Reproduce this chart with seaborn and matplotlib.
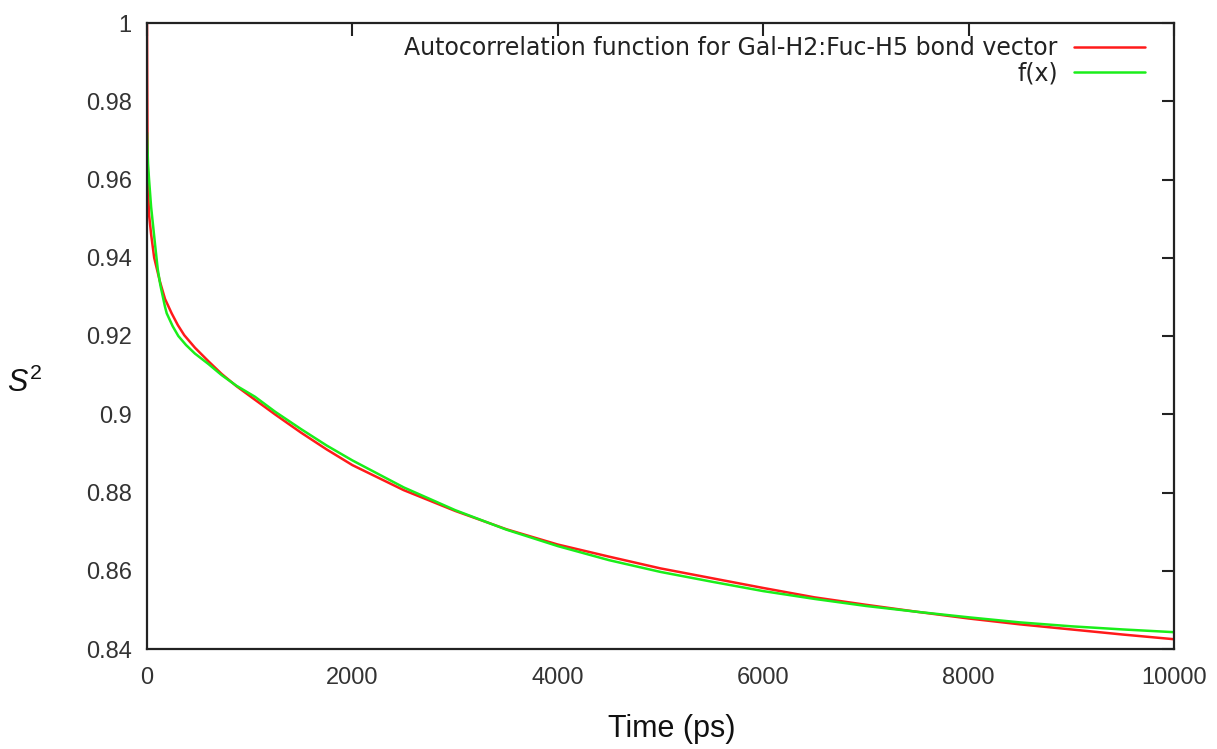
import matplotlib
matplotlib.use("Agg")
import matplotlib.pyplot as plt
import seaborn as sns
import pandas as pd

# ---- data ----
acf_time = [0, 2, 5, 10, 20, 40, 70, 125, 175, 240, 300, 363, 467, 600, 727,
            870, 1020, 1250, 1500, 1750, 2000, 2500, 3000, 3500, 4000,
            4500, 5000, 5500, 6000, 6500, 7000, 7500, 8000, 8500, 9000, 9500,
            10000]
acf_value = [1.000, 0.985, 0.968, 0.958, 0.951, 0.946, 0.940, 0.934, 0.9295,
             0.9258, 0.9228, 0.9202, 0.9170, 0.9135, 0.9103, 0.9072, 0.9043,
             0.8999, 0.8953, 0.8910, 0.8870, 0.8806, 0.8753, 0.8706,
             0.8667, 0.8636, 0.8606, 0.8581, 0.8556, 0.8532, 0.8513, 0.8495,
             0.8478, 0.8463, 0.8450, 0.8437, 0.8425]

fit_time = [0, 10, 20, 40, 60, 80, 105, 130, 175, 192, 250, 305, 380, 467, 600,
            727, 870, 1050, 1250, 1500, 1750, 2000, 2500, 3000, 3500, 4000,
            4500, 5000, 5500, 6000, 6500, 7000, 7500, 8000, 8500, 9000, 9500,
            10000]
fit_value = [0.972, 0.964, 0.960, 0.953, 0.948, 0.943, 0.937, 0.933, 0.9275,
             0.9258, 0.9225, 0.9200, 0.9177, 0.9155, 0.9128, 0.9100, 0.9073,
             0.9045, 0.9006, 0.8962, 0.8920, 0.8882, 0.8813, 0.8755, 0.8705,
             0.8663, 0.8627, 0.8597, 0.8572, 0.8548, 0.8528, 0.8510, 0.8495,
             0.8481, 0.8468, 0.8458, 0.8450, 0.8443]

series_labels = ["Autocorrelation function for Gal-H2:Fuc-H5 bond vector", "f(x)"]
x_ticks = [0, 2000, 4000, 6000, 8000, 10000]
y_ticks = [0.84, 0.86, 0.88, 0.9, 0.92, 0.94, 0.96, 0.98, 1]
y_tick_labels = ["0.84", "0.86", "0.88", "0.9", "0.92", "0.94", "0.96", "0.98", "1"]

sns.set_style("white")
plt.rcParams["font.family"] = ["Liberation Sans", "DejaVu Sans"]
plt.rcParams["mathtext.fontset"] = "custom"
plt.rcParams["mathtext.it"] = "Liberation Sans:italic"
plt.rcParams["mathtext.rm"] = "Liberation Sans"

fig = plt.figure(figsize=(12.17, 7.49), dpi=100)
ax = fig.add_axes([147 / 1217, 100 / 749, (1174 - 147) / 1217, (649 - 23) / 749])

df_acf = pd.DataFrame({"t": acf_time, "v": acf_value})
df_fit = pd.DataFrame({"t": fit_time, "v": fit_value})
sns.lineplot(data=df_acf, x="t", y="v", ax=ax, color="#ff1a1a", lw=1.8,
             estimator=None, sort=False, label=series_labels[0])
sns.lineplot(data=df_fit, x="t", y="v", ax=ax, color="#1aee1a", lw=1.8,
             estimator=None, sort=False, label=series_labels[1])

ax.set_xlim(0, 10000)
ax.set_ylim(0.84, 1.0)
ax.set_xticks(x_ticks)
ax.set_xticklabels([str(v) for v in x_ticks])
ax.set_yticks(y_ticks)
ax.set_yticklabels(y_tick_labels)
ax.tick_params(direction="in", length=9, width=1.5, color="#222222",
               top=True, right=True, labelsize=17, labelcolor="#333333")
ax.tick_params(axis="x", pad=13)
ax.tick_params(axis="y", pad=11)
for sp in ax.spines.values():
    sp.set_visible(True)
    sp.set_color("#222222")
    sp.set_linewidth(1.6)

ax.set_xlabel("")
ax.set_ylabel("")
fig.text(672 / 1217, 1 - 729 / 749, "Time (ps)", ha="center", va="center",
         fontsize=22, color="#111111")
fig.text(25 / 1217, 1 - 383 / 749, r"$S^{2}$", ha="center", va="center",
         fontsize=22, color="#111111")

leg = ax.legend(loc="upper right", frameon=False, markerfirst=False,
                handlelength=3.0, fontsize=17, borderaxespad=0.0,
                borderpad=0.0, labelspacing=0.05, handletextpad=0.7,
                bbox_to_anchor=((1145 - 147) / 1027, 1 - 13 / 626))
for t in leg.get_texts():
    t.set_family("DejaVu Sans")
    t.set_color("#222222")

fig.savefig("out.png", dpi=100)
